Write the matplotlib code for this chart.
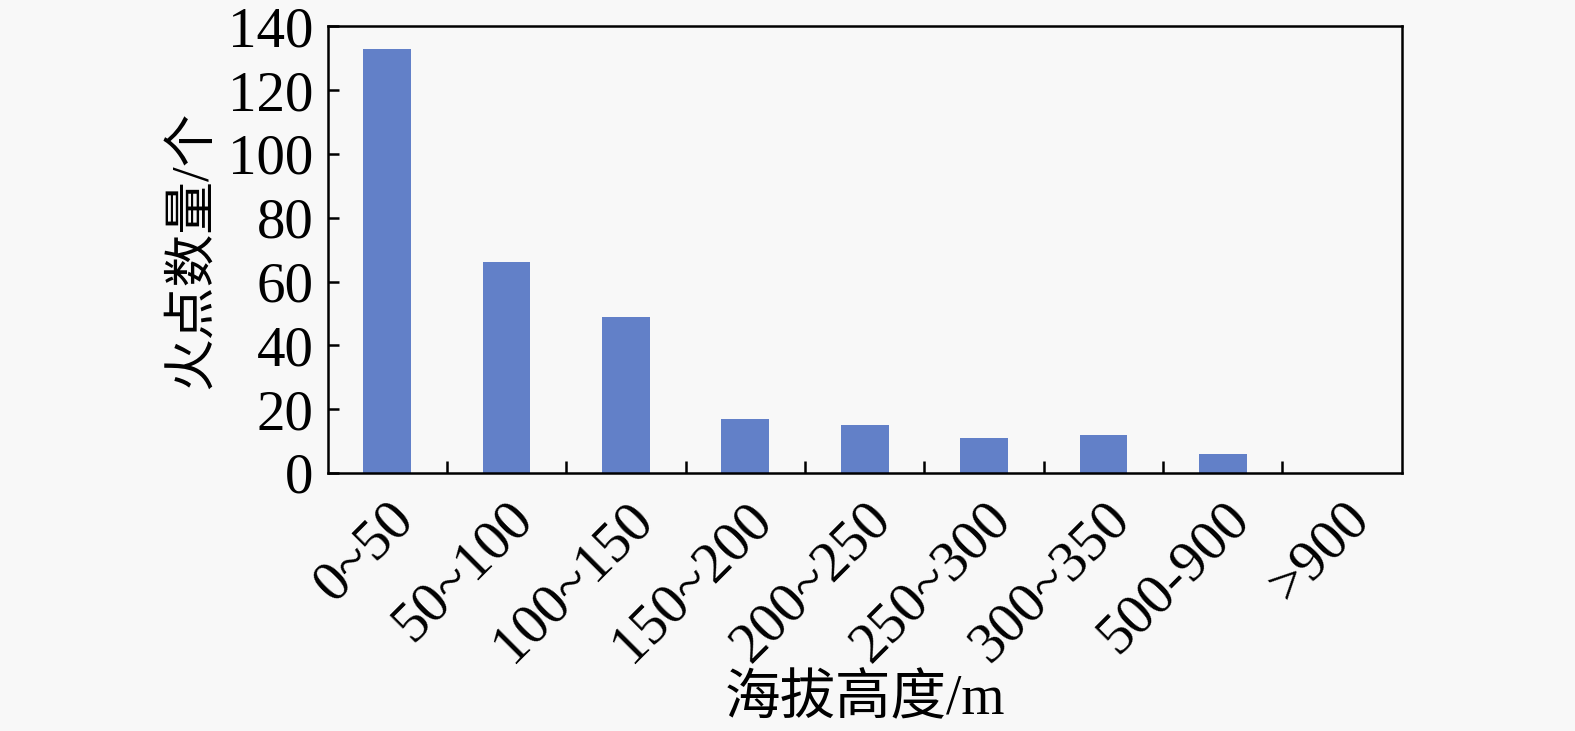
import matplotlib.pyplot as plt

# altitude bins and fire point counts
altitude_bins = ["0~50", "50~100", "100~150", "150~200", "200~250",
                 "250~300", "300~350", "500-900", ">900"]
fire_counts = [133, 66, 49, 17, 15, 11, 12, 6, 0]

plt.rcParams["font.family"] = ["Liberation Serif", "Noto Sans CJK SC"]

fig = plt.figure(figsize=(15.75, 7.31), dpi=100, facecolor="#f8f8f8")
ax = fig.add_axes([0.208, 0.353, 0.682, 0.611], facecolor="#f8f8f8")

x = list(range(len(altitude_bins)))
ax.bar(x, fire_counts, width=0.4, color="#6280c8")

ax.set_xlim(-0.5, len(altitude_bins) - 0.5)
ax.set_ylim(0, 140)
ax.set_yticks(range(0, 141, 20))
ax.tick_params(axis="y", direction="in", length=8, width=1.8, labelsize=41, pad=10)

# category ticks sit between bars, labels at bar centres
ax.set_xticks([i + 0.5 for i in x[:-1]])
ax.set_xticks(x, minor=True)
ax.set_xticklabels([])
ax.set_xticklabels(altitude_bins, minor=True, rotation=45, ha="right",
                   va="top", rotation_mode="anchor", fontsize=41)
ax.tick_params(axis="x", which="major", direction="in", length=9, width=1.8)
ax.tick_params(axis="x", which="minor", length=0, pad=14)

for s in ax.spines.values():
    s.set_linewidth(1.8)

ax.set_xlabel("海拔高度/m", fontsize=40, labelpad=2)
ax.set_ylabel("火点数量/个", fontsize=38, labelpad=8)

fig.savefig("out.png", facecolor=fig.get_facecolor())
